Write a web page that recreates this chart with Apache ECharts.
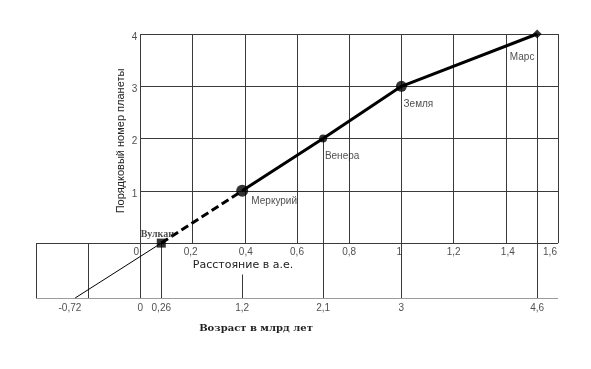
<!DOCTYPE html>
<html><head><meta charset="utf-8">
<script src="https://cdn.jsdelivr.net/npm/echarts@6/dist/echarts.min.js"></script>
<style>html,body{margin:0;padding:0;background:#fff}#c{width:591px;height:369px}</style>
</head><body><div id="c"></div>
<script>
// ---- data ----
const planetNames = ['Вулкан', 'Меркурий', 'Венера', 'Земля', 'Марс'];
const planetDistance = [0.08, 0.39, 0.70, 1.0, 1.52];   // a.u.
const planetNumber = [0, 1, 2, 3, 4];
const distanceTicks = [0, 0.2, 0.4, 0.6, 0.8, 1, 1.2, 1.4, 1.6];
const distanceTickLabels = ['0', '0,2', '0,4', '0,6', '0,8', '1', '1,2', '1,4', '1,6'];
const numberTicks = [1, 2, 3, 4];
const numberTickLabels = ['1', '2', '3', '4'];
const ageLabels = ['-0,72', '0', '0,26', '1,2', '2,1', '3', '4,6'];
const agePosition = [-0.27, 0, 0.08, 0.39, 0.70, 1.0, 1.52];  // where each age sits on the distance scale
const extrapolationEnd = [-0.25, -1.05];
const lowerBandExtraX = [-0.4, -0.2];

// ---- layout / style config ----
const X_MIN = -0.4, X_MAX = 1.6, Y_MIN = -1.05, Y_MAX = 4;
const MERCURY_LINE_TOP = -0.6;
const markerSizes = [9, 12, 8, 11, 9];
const markerSymbols = ['rect', 'circle', 'circle', 'circle', 'diamond'];
const labelOffsets = [[-4, -9], [32, 10], [19, 18], [17, 18], [-15, 23]];
const xLabelShift = [-4, -2, 1, 0, 0, -2, 0, 2, -8];
const GRID_COLOR = '#3a3a3a';
const TEXT_COLOR = '#222';
const FONT = 'Arial, "Liberation Sans", sans-serif';
const SERIF = '"Liberation Serif", "DejaVu Serif", serif';

// ---- build grid segments ----
const segs = [];
segs.push([[0, Y_MIN], [0, Y_MAX]]);
segs.push([[X_MIN, 0], [X_MAX, 0]]);
segs.push([[X_MIN, Y_MIN], [X_MAX, Y_MIN]]);
distanceTicks.forEach(x => { if (x > 0) segs.push([[x, 0], [x, Y_MAX]]); });
numberTicks.forEach(y => segs.push([[0, y], [X_MAX, y]]));
lowerBandExtraX.forEach(x => segs.push([[x, Y_MIN], [x, 0]]));
planetDistance.forEach((x, i) => {
  if (i === 1) segs.push([[x, MERCURY_LINE_TOP], [x, Y_MIN]]);
  else segs.push([[x, Y_MIN], [x, i === 0 ? 0 : planetNumber[i]]]);
});

const solidPts = planetDistance.slice(1).map((x, i) => [x, planetNumber[i + 1]]);
const dashPts = [[planetDistance[0], planetNumber[0]], [planetDistance[1], planetNumber[1]]];
const thinPts = [[planetDistance[0], planetNumber[0]], extrapolationEnd];

const chart = echarts.init(document.getElementById('c'), null, {renderer: 'canvas'});
chart.setOption({
  backgroundColor: '#fff',
  animation: false,
  grid: {left: 36, right: 33, top: 34, bottom: 71, containLabel: false},
  xAxis: {type: 'value', min: X_MIN, max: X_MAX, show: false},
  yAxis: {type: 'value', min: Y_MIN, max: Y_MAX, show: false},
  graphic: [
    {type: 'text', x: 121, y: 141, rotation: Math.PI / 2,
     style: {text: 'Порядковый номер планеты', x: 0, y: 0, align: 'center', verticalAlign: 'middle', fontSize: 11, fontFamily: FONT, fill: TEXT_COLOR}},
    {type: 'text', x: 243, y: 265,
     style: {text: 'Расстояние в а.е.', align: 'center', verticalAlign: 'middle', fontSize: 11, fontFamily: '"DejaVu Sans", sans-serif', fill: TEXT_COLOR}},
    {type: 'text', x: 256, y: 328,
     style: {text: 'Возраст в млрд лет', align: 'center', verticalAlign: 'middle', fontSize: 10, fontWeight: 'bold', fontFamily: '"DejaVu Serif", serif', fill: TEXT_COLOR}}
  ],
  series: [
    {type: 'lines', coordinateSystem: 'cartesian2d', silent: true, z: 1,
     lineStyle: {color: GRID_COLOR, width: 1, opacity: 1},
     data: segs.map(c => ({coords: c}))},
    {type: 'line', data: thinPts, symbol: 'none', z: 3, lineStyle: {color: '#000', width: 1}},
    {type: 'line', data: dashPts, symbol: 'none', z: 3, lineStyle: {color: '#000', width: 3, type: [8, 4]}},
    {type: 'line', data: solidPts, symbol: 'none', z: 3, lineStyle: {color: '#000', width: 3}},
    {type: 'scatter', z: 4,
     data: planetDistance.map((x, i) => ({
       value: [x, planetNumber[i]], symbol: markerSymbols[i], symbolSize: markerSizes[i],
       label: {
         show: true, position: 'inside', offset: labelOffsets[i], formatter: planetNames[i],
         color: TEXT_COLOR, fontSize: 10,
         fontWeight: i === 0 ? 'bold' : 'normal',
         fontFamily: i === 0 ? SERIF : FONT
       }
     })),
     itemStyle: {color: '#000'}},
    // distance tick labels (along y = 0)
    {type: 'scatter', z: 4, symbolSize: 0, silent: true,
     data: distanceTicks.map((x, i) => ({value: [x, 0], name: distanceTickLabels[i],
       label: {offset: [xLabelShift[i], 0]}})),
     label: {show: true, position: 'bottom', distance: 4, formatter: p => p.name, color: TEXT_COLOR, fontSize: 10, fontFamily: FONT}},
    // planet number tick labels (along x = 0)
    {type: 'scatter', z: 4, symbolSize: 0, silent: true,
     data: numberTicks.map((y, i) => ({value: [0, y], name: numberTickLabels[i]})),
     label: {show: true, position: 'left', distance: 3, offset: [0, 3], formatter: p => p.name, color: TEXT_COLOR, fontSize: 10, fontFamily: FONT}},
    // age labels (below bottom line)
    {type: 'scatter', z: 4, symbolSize: 0, silent: true,
     data: agePosition.map((x, i) => ({value: [x, Y_MIN], name: ageLabels[i]})),
     label: {show: true, position: 'bottom', distance: 5, formatter: p => p.name, color: TEXT_COLOR, fontSize: 10, fontFamily: FONT}}
  ]
});
</script>
</body></html>
